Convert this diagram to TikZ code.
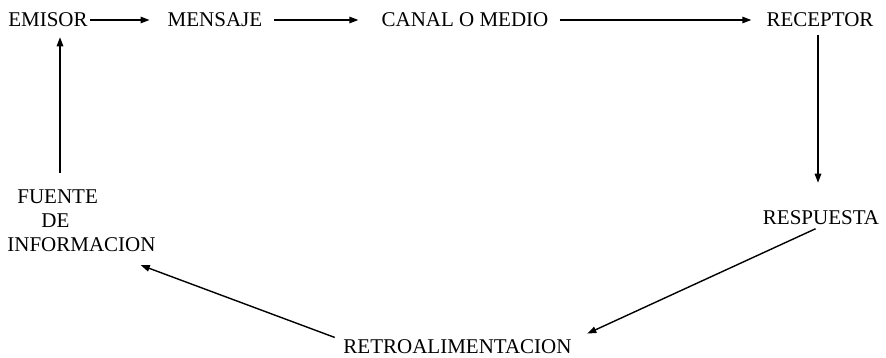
\documentclass[tikz,border=0pt]{standalone}
\usepackage{fontspec}
\setmainfont{Liberation Serif}
\usetikzlibrary{arrows.meta, positioning}

\begin{document}
\begin{tikzpicture}[x=1pt, y=-1pt,
        lbl/.style={inner sep=1pt, font=\fontsize{21}{24}\selectfont},
        arr/.style={-{Triangle[length=9pt, width=6.5pt]}, line width=1.4pt}
    ]
        \useasboundingbox (0,0) rectangle (886,358);

        % top row
        \node[lbl] (emisor) at (48, 20) {EMISOR};
        \node[lbl] (mensaje) at (215, 20) {MENSAJE};
        \node[lbl] (canal) at (465, 20) {CANAL O MEDIO};
        \node[lbl] (receptor) at (820, 20) {RECEPTOR};

        % right side and bottom
        \node[lbl] (respuesta) at (821, 218) {RESPUESTA};
        \node[lbl] (retro) at (457.5, 346.5) {RETROALIMENTACION};

        % left side
        \node[lbl, align=left] (fuente) at (81.5, 221)
            {\hspace{10pt}FUENTE\\\hspace{34pt}DE\\INFORMACION};

        \draw[arr, shorten <=1pt, shorten >=17pt] (emisor.east) -- (mensaje.west);
        \draw[arr, shorten <=11pt, shorten >=22pt] (mensaje.east) -- (canal.west);
        \draw[arr, shorten <=10pt, shorten >=14pt] (canal.east) -- (receptor.west);
        \draw[arr, shorten <=7pt, shorten >=27pt] ([xshift=-2pt]receptor.south) -- ([xshift=-3pt]respuesta.north);
        \draw[arr, shorten <=6pt, shorten >=16pt] (respuesta.south) -- ([yshift=-2pt]retro.north east);
        \draw[arr, shorten <=8pt] ([yshift=-2pt]retro.north west) -- ([xshift=-16pt, yshift=-12pt]fuente.south east);
        \draw[arr, shorten <=16pt, shorten >=9pt] ([xshift=-21.5pt]fuente.north) -- ([xshift=12pt]emisor.south);
    \end{tikzpicture}
\end{document}
